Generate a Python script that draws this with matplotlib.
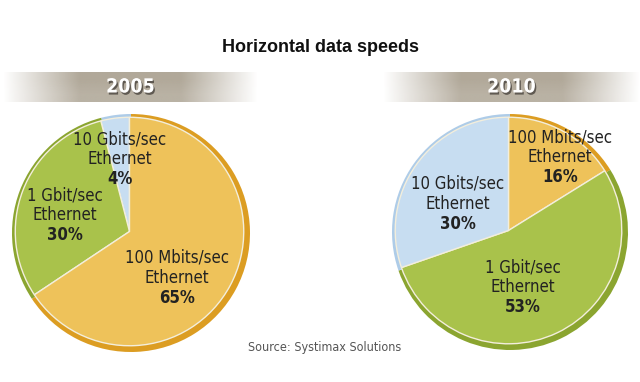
import numpy as np
import matplotlib.pyplot as plt
import matplotlib.patheffects as pe
from matplotlib.colors import to_rgb

# data
title = "Horizontal data speeds"
years = ["2005", "2010"]
labels_2005 = ["10 Gbits/sec", "1 Gbit/sec", "100 Mbits/sec"]
values_2005 = [4, 30, 65]
labels_2010 = ["100 Mbits/sec", "1 Gbit/sec", "10 Gbits/sec"]
values_2010 = [16, 53, 30]
source = "Source: Systimax Solutions"

W, H = 640, 382
fig = plt.figure(figsize=(6.4, 3.82), dpi=100)
ax = fig.add_axes([0, 0, 1, 1])

FONT = dict(family="DejaVu Sans", stretch="condensed")

col_dark = {"100M": "#DC9D22", "1G": "#8BA530", "10G": "#AECCE8"}
col_light = {"100M": "#EEC25A", "1G": "#A9C24B", "10G": "#C7DDF1"}
key = {"100 Mbits/sec": "100M", "1 Gbit/sec": "1G", "10 Gbits/sec": "10G"}


def banner(x0, x1, y0, y1, text):
    n = 256
    t = np.linspace(0, 1, n)
    alpha = np.clip(np.minimum(t / 0.3, (1 - t) / 0.3), 0, 1)
    img = np.zeros((2, n, 4))
    img[..., :3] = to_rgb("#ADA494")
    img[0, :, 3] = alpha * 0.95
    img[1, :, 3] = alpha * 0.85
    ax.imshow(img, extent=(x0, x1, H - y1, H - y0), aspect="auto",
              interpolation="bilinear", zorder=1)
    ax.text((x0 + x1) / 2, H - (y0 + y1) / 2, text, ha="center", va="center",
            color="white", fontsize=14, fontweight="bold", **FONT,
            path_effects=[pe.withSimplePatchShadow(offset=(1, -1.5), shadow_rgbFace="#3a3530", alpha=0.7)],
            zorder=3)


def draw_pie(cx, cy, r, values, labels, startangle, counterclock, label_pos):
    keys = [key[l] for l in labels]
    ax.pie(values, colors=[col_dark[k] for k in keys], center=(cx, H - cy), radius=r,
           startangle=startangle, counterclock=counterclock, frame=True,
           wedgeprops=dict(linewidth=0))
    ax.pie(values, colors=[col_light[k] for k in keys], center=(cx - 1.5, H - cy + 1.5),
           radius=r * 0.96, startangle=startangle, counterclock=counterclock, frame=True,
           wedgeprops=dict(linewidth=1.0, edgecolor="#F3EEDC"))
    for lab, v, (lx, ly) in zip(labels, values, label_pos):
        ax.text(lx, H - ly + 20, lab, ha="center", va="center", fontsize=12,
                color="#222222", **FONT)
        ax.text(lx, H - ly, "Ethernet", ha="center", va="center", fontsize=12,
                color="#222222", **FONT)
        ax.text(lx, H - ly - 20, f"{v}%", ha="center", va="center", fontsize=12,
                fontweight="bold", color="#222222", **FONT)


ax.text(W / 2, H - 47, title, ha="center", va="center", fontsize=13,
        fontweight="bold", family=["Liberation Sans", "DejaVu Sans"], color="#111111")

banner(3, 258, 72, 102, years[0])
banner(383, 640, 72, 102, years[1])

draw_pie(131, 233, 119, values_2005, labels_2005, 90, True,
         [(120, 159), (65, 215), (177, 278)])
draw_pie(510, 232, 118, values_2010, labels_2010, 90, False,
         [(560, 157), (523, 287), (458, 204)])

ax.text(325, H - 348, source, ha="center", va="center", fontsize=9,
        color="#555555", **FONT)

ax.set_xlim(0, W)
ax.set_ylim(0, H)
ax.set_aspect("auto")
ax.axis("off")
fig.savefig("out.png", dpi=100)
